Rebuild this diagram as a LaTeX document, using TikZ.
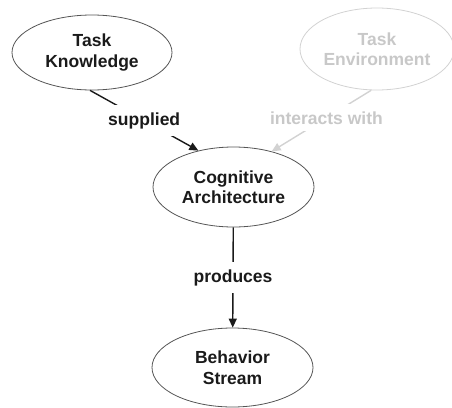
\documentclass[tikz,border=0pt]{standalone}
\usepackage{fontspec}
\setmainfont{Liberation Sans}
\usetikzlibrary{shapes.geometric,arrows.meta}
\definecolor{ink}{HTML}{1A1A1A}
\definecolor{edge}{HTML}{555555}
\definecolor{faint}{HTML}{D2D2D2}
\definecolor{fainttext}{HTML}{C8C8C8}
\tikzset{
  concept/.style={ellipse, draw=edge, line width=0.8pt, inner sep=0pt, align=center,
    text=ink, font=\fontsize{17.5}{20.5}\selectfont\bfseries},
  ghost/.style={concept, draw=faint, text=fainttext},
  link/.style={line width=1.4pt, draw=ink, -{Triangle[length=9pt,width=8pt]}},
  ghostlink/.style={link, draw=faint},
  rel/.style={fill=white, inner sep=7pt, text=ink, font=\fontsize{17.5}{20.5}\selectfont\bfseries},
  ghostrel/.style={rel, text=fainttext}
}
\begin{document}
\begin{tikzpicture}[x=1pt,y=-1pt]
\useasboundingbox (0,0) rectangle (452,407);
\node[concept, minimum width=160pt, minimum height=75pt] (tk) at (92,52.5) {Task\\Knowledge};
\node[ghost, minimum width=154pt, minimum height=82pt] (te) at (377,49) {Task\\Environment};
\node[concept, minimum width=161pt, minimum height=80pt] (ca) at (233.5,187) {Cognitive\\Architecture};
\node[concept, minimum width=161pt, minimum height=79pt] (bs) at (232.5,367.5) {Behavior\\Stream};
\draw[link] (tk.-93) -- node[rel] {supplied} (ca.134);
\draw[ghostlink] (te.-98) -- node[ghostrel, pos=0.45] {interacts with} (ca.43);
\draw[link] (ca) -- node[rel] {produces} (bs);
\end{tikzpicture}
\end{document}
